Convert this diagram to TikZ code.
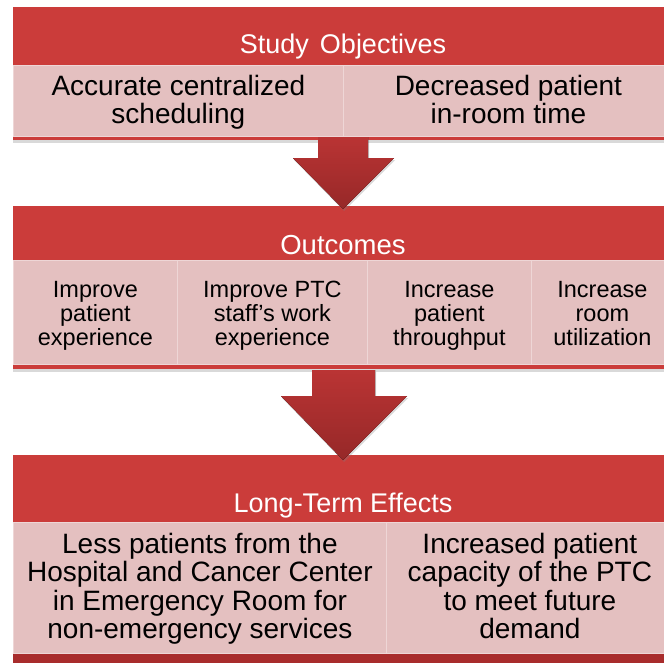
\documentclass[tikz,border=0pt]{standalone}
\usepackage{fontspec}
\setmainfont{Liberation Sans}
\usetikzlibrary{shadows}
\definecolor{hdrred}{RGB}{203,60,58}
\definecolor{cellpink}{RGB}{228,192,192}
\definecolor{celledge}{RGB}{238,214,214}
\definecolor{bandred}{RGB}{168,44,44}
\definecolor{arrtop}{RGB}{186,52,52}
\definecolor{arrbot}{RGB}{150,40,40}
\begin{document}
\begin{tikzpicture}[x=1pt,y=-1pt,
		block/.style={fill=hdrred, drop shadow={opacity=.3, shadow xshift=0pt, shadow yshift=-3pt}},
		cell/.style={draw=celledge, line width=.8pt, fill=cellpink, anchor=north west, inner sep=0pt, align=center, text=black},
		objcell/.style={cell, minimum height=71pt, text height=48pt, text depth=3pt, font=\fontsize{28}{28}\selectfont},
		outcell/.style={cell, minimum height=104pt, text height=67pt, text depth=1pt, font=\fontsize{23.5}{24}\selectfont},
		ltecell/.style={cell, minimum height=131pt, text height=106pt, text depth=4pt, font=\fontsize{28}{28.5}\selectfont},
		head/.style={anchor=base, text=white, inner sep=0pt},
		bigarrow/.style={top color=arrtop, bottom color=arrbot, drop shadow={opacity=.3, shadow xshift=1pt, shadow yshift=-2pt}}]
		\useasboundingbox (0,0) rectangle (664,662);
		\clip (0,0) rectangle (664,662);
		\fill[block](13,7) rectangle (673,140);
		\node[head, font=\fontsize{27}{27}\selectfont] (objhead) at (343,53) {Study\hspace{3.5pt} Objectives};
		\node[objcell, minimum width=330pt] (sched) at (13,65) {Accurate centralized\\scheduling};
		\node[objcell, minimum width=330pt] (inroom) at (343,65) {Decreased patient\\in-room time};
		\fill[block](13,206) rectangle (673,369);
		\node[head, font=\fontsize{27.5}{27.5}\selectfont] (outhead) at (343,254) {Outcomes};
		\node[outcell, minimum width=164pt] (ptexp) at (13,260) {Improve\\patient\\experience};
		\node[outcell, minimum width=190pt] (staffexp) at (177,260) {Improve PTC\\staff’s work\\experience};
		\node[outcell, minimum width=164pt] (thru) at (367,260) {Increase\\patient\\throughput};
		\node[outcell, minimum width=142pt] (util) at (531,260) {Increase\\room\\utilization};
		\fill[block](13,455) rectangle (673,672);
		\fill[bandred](13,653) rectangle (673,672);
		\node[head, font=\fontsize{27}{27}\selectfont] (ltehead) at (343,512) {Long-Term Effects};
		\node[ltecell, minimum width=373pt] (erless) at (13,522) {Less patients from the\\Hospital and Cancer Center\\in Emergency Room for\\non-emergency services};
		\node[ltecell, minimum width=287pt] (capacity) at (386,522) {Increased patient\\capacity of the PTC\\to meet future\\demand};
		\fill[bigarrow](318,137)--(368,137)--(368,158)--(394,158)--(343,209)--(293,158)--(318,158)--cycle;
		\fill[bigarrow](312,370)--(375,370)--(375,396)--(407,396)--(343,460)--(281,396)--(312,396)--cycle;
	\end{tikzpicture}
\end{document}
